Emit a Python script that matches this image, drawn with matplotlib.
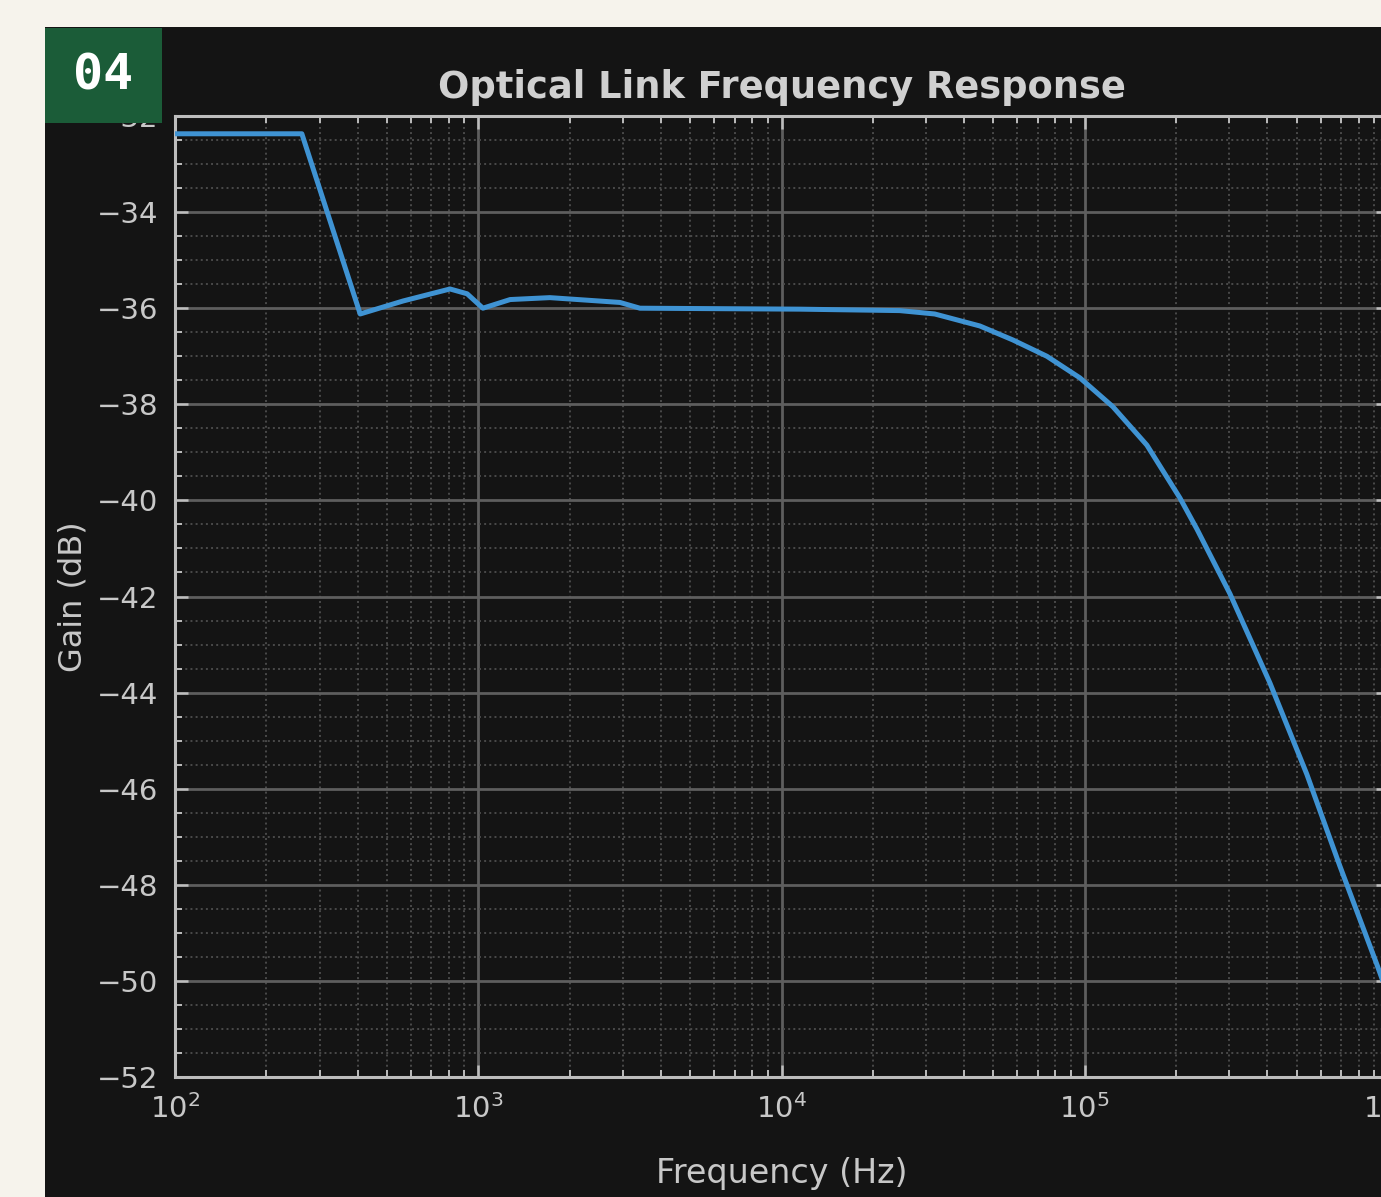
import matplotlib
matplotlib.use('Agg')
import matplotlib.pyplot as plt
from matplotlib.patches import Rectangle
from matplotlib.ticker import LogLocator, AutoMinorLocator, NullFormatter

# 读图得到的频响数据
freq_hz = [100, 262, 408, 565, 807, 919, 1036, 1274, 1722, 2932, 3413,
           11470, 24550, 32000, 45100, 57900, 75000, 96400, 123800, 160300,
           206000, 234500, 301000, 408000, 540000, 693000, 918000, 1000000]
gain_db = [-32.37, -32.37, -36.12, -35.85, -35.6, -35.7, -36.0, -35.82, -35.78, -35.88, -36.0,
           -36.02, -36.05, -36.12, -36.37, -36.66, -37.0, -37.45, -38.05, -38.85,
           -39.95, -40.6, -41.94, -43.8, -45.7, -47.6, -49.65, -50.3]
y_ticks = list(range(-52, -31, 2))

W, H = 1381, 1197
fig = plt.figure(figsize=(W/100, H/100), dpi=100)
fig.patch.set_facecolor('#f6f3ec')

# 深色底板
fig.add_artist(Rectangle((45/W, 0), 1, 1-27/H, transform=fig.transFigure,
                         facecolor='#141414', edgecolor='none', zorder=-10))

ax = fig.add_axes([175/W, 1-1077/H, (1388-175)/W, (1077-116)/H])
ax.set_facecolor('#141414')
ax.semilogx(freq_hz, gain_db, color='#3f93d3', linewidth=3.6, zorder=3)
ax.set_xlim(1e2, 1e6)
ax.set_ylim(-52, -32)
ax.set_yticks(y_ticks)
ax.yaxis.set_minor_locator(AutoMinorLocator(4))
ax.xaxis.set_major_locator(LogLocator(base=10, numticks=10))
ax.xaxis.set_minor_locator(LogLocator(base=10, subs=range(2, 10), numticks=50))
ax.xaxis.set_minor_formatter(NullFormatter())

ax.grid(which='major', color='#5e5e5e', linewidth=2.0, linestyle='-')
ax.grid(which='minor', color='#4a4a4a', linewidth=1.4, linestyle=':')
for s in ax.spines.values():
    s.set_color('#bdbdbd')
    s.set_linewidth(2.2)
ax.tick_params(which='major', direction='in', length=9, width=1.8, color='#bdbdbd',
               labelcolor='#c8c8c8', labelsize=21, pad=12, top=True, right=True)
ax.tick_params(which='minor', direction='in', length=5, width=1.4, color='#bdbdbd',
               top=True, right=True)

ax.set_title('Optical Link Frequency Response', color='#d0d0d0', fontsize=26.5,
             fontweight='bold', pad=13)
ax.set_xlabel('Frequency (Hz)', color='#c8c8c8', fontsize=24, labelpad=24)
ax.set_ylabel('Gain (dB)', color='#c8c8c8', fontsize=23, labelpad=6)

# 左上角编号
fig.add_artist(Rectangle((45/W, 1-123/H), 117/W, 95/H, transform=fig.transFigure,
                         facecolor='#1b5c38', edgecolor='none', zorder=5))
fig.text(103.5/W, 1-76/H, '04', color='white', fontsize=36, fontweight='bold',
         family='DejaVu Sans Mono', ha='center', va='center', zorder=6)

fig.savefig('out.png', dpi=100, facecolor=fig.get_facecolor())
